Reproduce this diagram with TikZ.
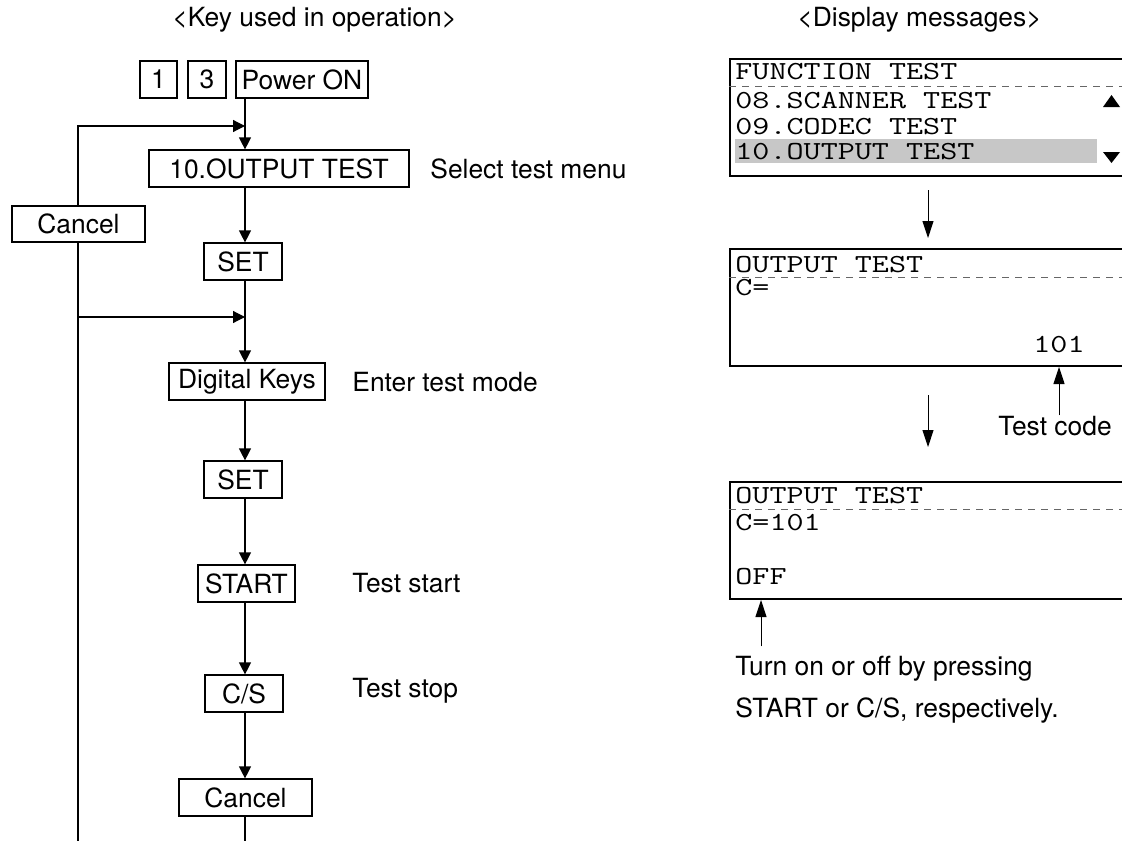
\documentclass[tikz,border=0pt]{standalone}
\usepackage{fontspec}
\setmainfont{TeX Gyre Heros}
\usepackage{graphicx}
\usetikzlibrary{arrows.meta}
\def\lcd#1{\scalebox{1.275}[1]{#1}}

\tikzset{
	keybox/.style={draw, line width=0.6pt, inner sep=0pt, minimum height=18.5pt, fill=white},
	txt/.style={inner sep=0pt, anchor=base west},
	lcdtxt/.style={inner sep=0pt, anchor=base west, font=\fontsize{13}{15}\ttfamily},
	lcdbox/.style={draw, line width=1pt, inner sep=0pt, anchor=north west, minimum width=205.5pt, minimum height=58.5pt},
	rowline/.style={black!60, line width=0.5pt, dash pattern=on 3.5pt off 3pt},
	flow/.style={line width=0.6pt, -{Triangle[length=6pt,width=6pt]}},
	pointer/.style={line width=0.5pt, -{Triangle[length=8.5pt,width=5.5pt]}}
}

\begin{document}
\begin{tikzpicture}[x=0.5pt, y=-0.5pt, font=\fontsize{13.2}{16}\selectfont]
	%%%%% START %%%%%
	\useasboundingbox (0,0) rectangle (1122,840);
	\clip (0,0) rectangle (1122,840);
	
	\node[txt] (hkeys) at (172,27) {<Key used in operation>};
	\node[txt] (hdisp) at (797,27) {<Display messages>};
	
	\coordinate (col) at (245,0);
	\coordinate (loop) at (78,0);
	\coordinate (backA) at (245,126);
	\coordinate (backB) at (245,317);
	\coordinate (exitA) at (245,845);
	\coordinate (exitB) at (78,845);
	
	% keys
	\node[keybox, minimum width=18.5pt] (k1) at (158.5,79.5) {1};
	\node[keybox, minimum width=19pt] (k3) at (207,79.5) {3};
	\node[keybox, minimum width=66pt] (kpower) at (302,79.5) {Power ON};
	\node[keybox, minimum width=130pt] (kmenu) at (279,168.5) {10.OUTPUT TEST};
	\node[keybox, minimum width=66.5pt, minimum height=18pt] (kcancel) at (78.5,224) {Cancel};
	\node[keybox, minimum width=39pt] (kset) at (243,261.5) {SET};
	\node[keybox, minimum width=78pt] (kdigit) at (247,381.5) {Digital Keys};
	\node[keybox, minimum width=39pt] (kset2) at (243,479.5) {SET};
	\node[keybox, minimum width=48.5pt] (kstart) at (246.5,583.5) {START};
	\node[keybox, minimum width=39pt] (kcs) at (244,693.5) {C/S};
	\node[keybox, minimum width=66.5pt] (kcancel2) at (245.5,797.5) {Cancel};
	
	\node[txt] (tmenu) at (430,178) {Select test menu};
	\node[txt] (tenter) at (352,391) {Enter test mode};
	\node[txt] (tstart) at (352,592) {Test start};
	\node[txt] (tstop) at (352,697) {Test stop};
	
	\draw[flow] (kpower.south -| col) -- (kmenu.north -| col);
	\draw[flow] (kmenu.south -| col) -- (kset.north -| col);
	\draw[flow] (kset.south -| col) -- (kdigit.north -| col);
	\draw[flow] (kdigit.south -| col) -- (kset2.north -| col);
	\draw[flow] (kset2.south -| col) -- (kstart.north -| col);
	\draw[flow] (kstart.south -| col) -- (kcs.north -| col);
	\draw[flow] (kcs.south -| col) -- (kcancel2.north -| col);
	\draw[line width=0.6pt] (kcancel2.south -| col) -- (exitA);
	
	\draw[line width=0.6pt] (exitB) -- (kcancel.south -| loop);
	\draw[flow] (kcancel.north -| loop) |- (backA);
	\draw[flow] (backB -| loop) -- (backB);
	
	% displays
	\node[lcdbox] (disp1) at (729,58) {};
	\fill[black!22] (735,139) rectangle (1097,163);
	\draw[rowline] (729,87) -- (1140,87);
	\node[lcdtxt] (l1) at (735,80) {\lcd{FUNCTION TEST}};
	\node[lcdtxt] (l2) at (735,108) {\lcd{08.SCANNER TEST}};
	\node[lcdtxt] (l3) at (735,134) {\lcd{09.CODEC TEST}};
	\node[lcdtxt] (l4) at (735,159) {\lcd{10.OUTPUT TEST}};
	\fill (1103,107) -- (1120,107) -- (1111.5,95) -- cycle;
	\fill (1103,152) -- (1120,152) -- (1111.5,163) -- cycle;
	
	\node[lcdbox] (disp2) at (729,248) {};
	\draw[rowline] (729,277) -- (1140,277);
	\node[lcdtxt] (m1) at (735,272) {\lcd{OUTPUT TEST}};
	\node[lcdtxt] (m2) at (735,295) {\lcd{C=}};
	\node[lcdtxt] (n101) at (1033,352) {\lcd{101}};
	
	\node[lcdbox] (disp3) at (729,481) {};
	\draw[rowline] (729,509) -- (1140,509);
	\node[lcdtxt] (o1) at (735,503) {\lcd{OUTPUT TEST}};
	\node[lcdtxt] (o2) at (735,530) {\lcd{C=101}};
	\node[lcdtxt] (noff) at (735,584) {\lcd{OFF}};
	
	\coordinate (col2) at (928,0);
	\draw[pointer, shorten <=6.5pt, shorten >=5pt] (disp1.south -| col2) -- (disp2.north -| col2);
	\draw[pointer, shorten <=14pt, shorten >=17pt] (disp2.south -| col2) -- (disp3.north -| col2);
	
	\node[txt] (tcode) at (998,435) {Test code};
	\draw[pointer] (tcode.north -| n101) -- (disp2.south -| n101);
	
	\node[txt] (note1) at (735,675) {Turn on or off by pressing};
	\node[txt] (note2) at (735,717) {START or C/S, respectively.};
	\draw[pointer, shorten <=4.5pt] (note1.north -| noff) -- (disp3.south -| noff);
	%%%%% END %%%%%
\end{tikzpicture}
\end{document}
